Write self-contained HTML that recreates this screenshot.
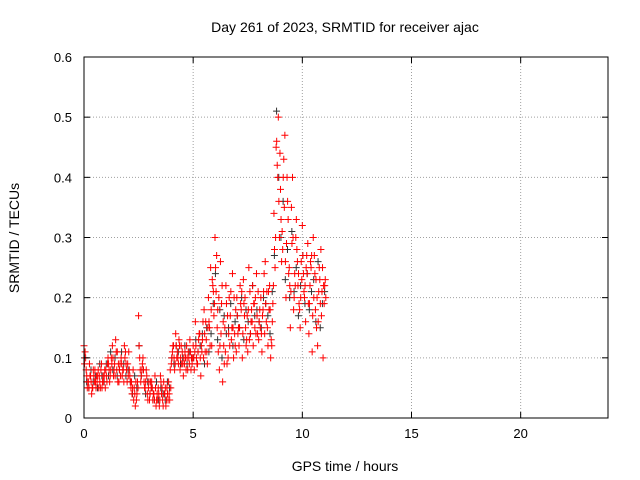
<!DOCTYPE html>
<html><head><meta charset="utf-8"><style>
body{margin:0;background:#fff}
svg{display:block;font-family:"Liberation Sans",sans-serif}
</style></head><body>
<svg id="chart" width="640" height="480">
<text x="345" y="32" font-size="14" text-anchor="middle">Day 261 of 2023, SRMTID for receiver ajac</text>
<text x="345" y="471" font-size="14" text-anchor="middle">GPS time / hours</text>
<text transform="translate(19,238) rotate(-90)" font-size="14" text-anchor="middle">SRMTID / TECUs</text>
<g id="grid"></g><g id="marks"></g><g id="axes"></g>
</svg>
<script>
const xTicks=[0,5,10,15,20];
const yTicks=[0,0.1,0.2,0.3,0.4,0.5,0.6];
const yTickLabels=["0","0.1","0.2","0.3","0.4","0.5","0.6"];
const times=[0,0.1,0.2,0.3,0.4,0.5,0.6,0.7,0.8,0.9,1,1.1,1.2,1.3,1.4,1.5,1.6,1.7,1.8,1.9,2,2.1,2.2,2.3,2.4,2.5,2.6,2.7,2.8,2.9,3,3.1,3.2,3.3,3.4,3.5,3.6,3.7,3.8,3.9,4,4.1,4.2,4.3,4.4,4.5,4.6,4.7,4.8,4.9,5,5.1,5.2,5.3,5.4,5.5,5.6,5.7,5.8,5.9,6,6.1,6.2,6.3,6.4,6.5,6.6,6.7,6.8,6.9,7,7.1,7.2,7.3,7.4,7.5,7.6,7.7,7.8,7.9,8,8.1,8.2,8.3,8.4,8.5,8.6,8.7,8.8,8.9,9,9.1,9.2,9.3,9.4,9.5,9.6,9.7,9.8,9.9,10,10.1,10.2,10.3,10.4,10.5,10.6,10.7,10.8,10.9,11];
const redA=[.12,.08,.06,.07,.05,.08,.06,.07,.09,.06,.08,.10,.07,.12,.09,.08,.06,.10,.08,.11,.09,.07,.04,.05,.03,.17,.06,.10,.05,.04,.03,.06,.04,.02,.05,.07,.03,.04,.05,.04,.09,.12,.14,.10,.08,.11,.09,.12,.10,.08,.12,.16,.09,.14,.11,.18,.13,.20,.25,.22,.30,.15,.08,.19,.12,.22,.10,.17,.24,.14,.20,.12,.18,.23,.15,.11,.21,.16,.19,.24,.13,.20,.18,.26,.15,.22,.12,.34,.45,.50,.38,.28,.47,.40,.25,.35,.18,.30,.22,.15,.32,.20,.27,.14,.25,.30,.18,.12,.23,.21,.19];
const redB=[.11,.05,.09,.04,.07,.05,.08,.05,.06,.08,.06,.08,.10,.07,.13,.06,.09,.07,.12,.08,.11,.05,.08,.02,.06,.10,.08,.06,.08,.05,.06,.03,.07,.04,.02,.04,.06,.02,.03,.08,.11,.08,.10,.13,.12,.07,.10,.08,.13,.09,.08,.10,.13,.07,.16,.11,.09,.15,.12,.17,.21,.11,.26,.06,.15,.09,.20,.13,.10,.18,.14,.22,.10,.17,.13,.25,.16,.12,.20,.14,.18,.11,.24,.16,.21,.10,.19,.25,.42,.30,.26,.43,.20,.33,.15,.40,.24,.28,.19,.26,.24,.16,.29,.22,.11,.27,.15,.21,.28,.10,.23];
const redC=[.09,.07,.05,.06,.08,.06,.07,.06,.05,.07,.07,.09,.08,.10,.07,.11,.08,.09,.06,.09,.07,.06,.05,.04,.04,.12,.07,.08,.06,.03,.04,.05,.03,.03,.04,.06,.02,.05,.04,.03,.10,.10,.12,.09,.10,.09,.11,.10,.09,.10,.10,.12,.11,.10,.13,.14,.11,.16,.18,.21,.25,.18,.12,.22,.09,.19,.14,.21,.15,.12,.17,.15,.21,.19,.12,.18,.14,.22,.15,.17,.16,.14,.21,.19,.12,.18,.16,.28,.46,.36,.33,.40,.26,.36,.22,.29,.20,.33,.24,.20,.27,.22,.24,.19,.27,.20,.23,.16,.19,.25,.22];
const redD=[.10,.06,.07,.05,.06,.07,.05,.08,.07,.05,.09,.06,.09,.08,.11,.09,.07,.08,.10,.06,.08,.06,.03,.06,.05,.08,.09,.05,.07,.06,.05,.04,.05,.03,.03,.05,.04,.03,.06,.05,.12,.09,.11,.12,.09,.10,.08,.11,.11,.10,.11,.09,.14,.12,.10,.16,.15,.12,.23,.19,.27,.20,.14,.16,.11,.17,.12,.15,.20,.11,.15,.19,.14,.20,.17,.13,.18,.19,.14,.21,.15,.17,.14,.21,.18,.13,.22,.30,.40,.44,.31,.35,.29,.24,.21,.30,.22,.26,.18,.23,.21,.25,.19,.26,.17,.24,.20,.25,.17,.22,.20];
const black=[.10,.06,.05,.08,.06,.07,.05,.09,.07,.06,.09,.07,.11,.08,.10,.07,.08,.11,.09,.07,.08,.06,.04,.07,.05,.12,.07,.08,.04,.06,.04,.05,.03,.06,.03,.05,.04,.03,.06,.05,.10,.09,.12,.11,.09,.10,.12,.09,.11,.10,.10,.13,.11,.12,.14,.09,.15,.11,.14,.19,.24,.13,.18,.10,.17,.14,.15,.19,.12,.16,.17,.15,.20,.13,.18,.16,.14,.22,.17,.18,.16,.15,.20,.19,.17,.14,.21,.27,.51,.40,.30,.36,.23,.28,.20,.31,.21,.25,.17,.22,.27,.19,.24,.18,.21,.23,.16,.26,.15,.19,.21];

const L=84,R=608,T=57,B=418;
const xs=v=>L+(v/24)*(R-L);
const ys=v=>B-(v/0.6)*(B-T);
const NS="http://www.w3.org/2000/svg";
function mk(tag,attrs,parent){const e=document.createElementNS(NS,tag);for(const k in attrs)e.setAttribute(k,attrs[k]);parent.appendChild(e);return e;}
const grid=document.getElementById('grid'),marks=document.getElementById('marks'),axes=document.getElementById('axes');
xTicks.forEach((t,i)=>{
  const x=xs(t);
  if(t>0){const g=mk('line',{x1:x,x2:x,y1:T,y2:B,stroke:'#a0a0a0','stroke-dasharray':'1,2'},grid);
  
  }
  mk('line',{x1:x,x2:x,y1:B,y2:B-6,stroke:'#000'},axes);
  mk('line',{x1:x,x2:x,y1:T,y2:T+6,stroke:'#000'},axes);
  const tx=mk('text',{x:x,y:B+20,'font-size':13,'text-anchor':'middle'},axes);tx.textContent=String(t);
  
  
});
yTicks.forEach((t,i)=>{
  const y=ys(t);
  if(t>0&&t<0.6){const g=mk('line',{x1:L,x2:R,y1:y,y2:y,stroke:'#a0a0a0','stroke-dasharray':'1,2'},grid);
  
  }
  mk('line',{x1:L,x2:L+6,y1:y,y2:y,stroke:'#000'},axes);
  mk('line',{x1:R,x2:R-6,y1:y,y2:y,stroke:'#000'},axes);
  const tx=mk('text',{x:L-12,y:y+5,'font-size':13,'text-anchor':'end'},axes);tx.textContent=yTickLabels[i];
  
  
});
const fr=mk('rect',{x:L,y:T,width:R-L,height:B-T,fill:'none',stroke:'#000'},axes);


function plus(t,v,color,name){
  const x=xs(t),y=ys(v);
  const g=mk('path',{d:`M${x-3.5},${y}h7M${x},${y-3.5}v7`,stroke:color,'stroke-width':1,fill:'none'},marks);
  
  
}
times.forEach((t,i)=>plus(t+0.02,black[i],'#333','point-black'));
times.forEach((t,i)=>plus(t,redA[i],'#f00','point-red'));
times.forEach((t,i)=>plus(t+0.05,redB[i],'#f00','point-red'));
times.forEach((t,i)=>plus(t+0.025,redC[i],'#f00','point-red'));
times.forEach((t,i)=>plus(t+0.075,redD[i],'#f00','point-red'));
</script>
</body></html>
